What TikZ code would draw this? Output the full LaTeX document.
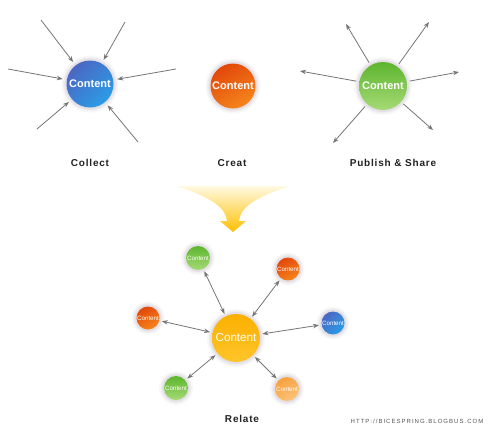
\documentclass[tikz,border=0pt]{standalone}
\usepackage{fontspec}
\setmainfont{Liberation Sans}
\newfontfamily\labfont[LetterSpace=8]{Liberation Sans}
\newfontfamily\urlfont[LetterSpace=17]{Liberation Sans}
\usetikzlibrary{arrows.meta}
\definecolor{blueA}{HTML}{4C66C2}
\definecolor{blueB}{HTML}{2A9DE6}
\definecolor{orgA}{HTML}{E2480A}
\definecolor{orgB}{HTML}{F5851C}
\definecolor{grnA}{HTML}{5DB52E}
\definecolor{grnB}{HTML}{A6DA76}
\definecolor{yelA}{HTML}{FBB000}
\definecolor{yelB}{HTML}{FDC52A}
\definecolor{ltoA}{HTML}{F8A040}
\definecolor{ltoB}{HTML}{FBC478}
\definecolor{haloc}{HTML}{B4ACBE}
\definecolor{arr}{HTML}{767676}
\definecolor{funA}{HTML}{FFF9E2}
\definecolor{funM}{HTML}{FFE38A}
\definecolor{funB}{HTML}{FFC000}
\definecolor{labc}{HTML}{222222}
\definecolor{urlc}{HTML}{555555}
\tikzset{
  halo/.style={
    preaction={draw=haloc, line width=10pt, draw opacity=0.08},
    preaction={draw=haloc, line width=7pt, draw opacity=0.12},
    preaction={draw=haloc, line width=4pt, draw opacity=0.2}},
  ball/.style={circle, inner sep=0pt, minimum size=#1, text=white, halo},
  bluefill/.style={top color=blueA, bottom color=blueB, shading angle=45},
  orgfill/.style={top color=orgA, bottom color=orgB, shading angle=30},
  grnfill/.style={top color=grnA, bottom color=grnB},
  yelfill/.style={top color=yelA, bottom color=yelB},
  ltofill/.style={top color=ltoA, bottom color=ltoB, shading angle=30},
  bigtext/.style={font=\bfseries\fontsize{11}{11}\selectfont},
  midtext/.style={font=\fontsize{11.6}{12}\selectfont},
  smalltext/.style={font=\fontsize{6.2}{7}\selectfont},
  lab/.style={font=\labfont\bfseries\fontsize{10}{12}\selectfont, text=labc},
  inarrow/.style={draw=arr, line width=0.8pt, -{Stealth[length=6pt,width=4.5pt]}, shorten >=4pt},
  outarrow/.style={draw=arr, line width=0.8pt, -{Stealth[length=6pt,width=4.5pt]}, shorten <=3pt},
  bothArrow/.style={draw=arr, line width=0.8pt, {Stealth[length=6pt,width=4.5pt]}-{Stealth[length=6pt,width=4.5pt]}, shorten <=2.5pt, shorten >=2.5pt}
}
\begin{document}
\begin{tikzpicture}[x=1pt,y=-1pt]
\useasboundingbox (0,0) rectangle (500,439);
\fill[white] (0,0) rectangle (500,439);

% Collect
\node[ball=47pt, bluefill, bigtext] (collect) at (90,84) {Content};
\coordinate (c1) at (41,20);
\coordinate (c2) at (125,22);
\coordinate (c3) at (8,69);
\coordinate (c4) at (176,69);
\coordinate (c5) at (37,129);
\coordinate (c6) at (138,142);
\foreach \c in {c1,c2,c3,c4,c5,c6} \draw[inarrow] (\c) -- (collect);
\node[lab] (lcollect) at (90,163) {Collect};

% Creat
\node[ball=45pt, orgfill, bigtext] (creat) at (233,86) {Content};
\node[lab] (lcreat) at (232,163) {Creat};

% Publish
\node[ball=48pt, grnfill, bigtext] (publish) at (383,86) {Content};
\coordinate (p1) at (346,24);
\coordinate (p2) at (429,22);
\coordinate (p3) at (300,71);
\coordinate (p4) at (459,72);
\coordinate (p5) at (333,143);
\coordinate (p6) at (433,130);
\foreach \p in {p1,p2,p3,p4,p5,p6} \draw[outarrow] (publish) -- (\p);
\node[lab] (lpublish) at (393,163) {Publish \& Share};

% Funnel arrow
\shade[top color=funA, middle color=funM, bottom color=funB]
  (176,186) -- (290,186)
  .. controls (255,197) and (240,208) .. (239,221)
  -- (246,221) -- (233,232) -- (220,221) -- (227,221)
  .. controls (226,208) and (211,197) .. (176,186) -- cycle;

% Relate
\node[ball=48pt, yelfill, midtext] (rel) at (236,338) {Content};
\node[ball=24pt, grnfill, smalltext] (s1) at (198,258) {Content};
\node[ball=23pt, orgfill, smalltext] (s2) at (288,269) {Content};
\node[ball=23pt, orgfill, smalltext] (s3) at (148,318) {Content};
\node[ball=23pt, bluefill, smalltext] (s4) at (333,323) {Content};
\node[ball=24pt, grnfill, smalltext] (s5) at (176,388) {Content};
\node[ball=24pt, ltofill, smalltext] (s6) at (287,389) {Content};
\foreach \s in {s1,s2,s3,s4,s5,s6} \draw[bothArrow] (\s) -- (rel);
\node[lab] (lrelate) at (242,419) {Relate};

\node[font=\urlfont\fontsize{6}{7}\selectfont, text=urlc] (url) at (417,421) {HTTP://BICESPRING.BLOGBUS.COM};
\end{tikzpicture}
\end{document}
